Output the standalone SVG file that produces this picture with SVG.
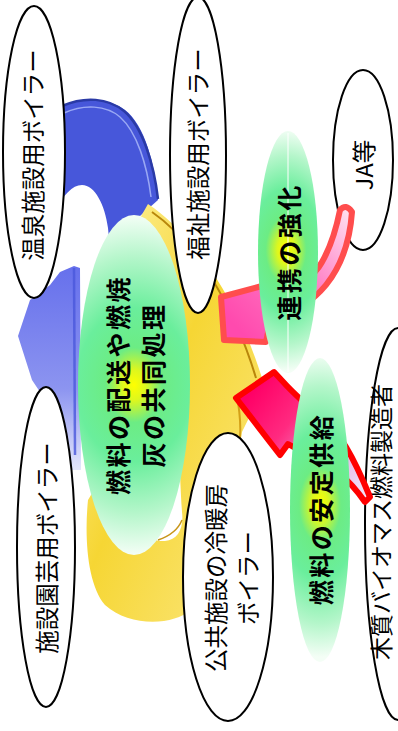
<svg xmlns="http://www.w3.org/2000/svg" width="398" height="731" viewBox="0 0 398 731">
<style>
  .bub { fill: #FFFFFF; stroke: #000000; stroke-width: 2; }
  .lbl { font-family: "Noto Sans CJK JP", "Noto Sans", sans-serif; font-size: 23.5px; fill: #000000; text-anchor: middle; dominant-baseline: central; }
  .key { font-family: "Noto Sans CJK JP", "Noto Sans", sans-serif; font-size: 25px; font-weight: 700; letter-spacing: 2.5px; fill: #000000; text-anchor: middle; dominant-baseline: central; }
</style>
<defs>
  <radialGradient id="glowA" gradientUnits="userSpaceOnUse" cx="134" cy="385" r="170" gradientTransform="translate(134 385) scale(0.75 1) translate(-134 -385)">
    <stop offset="0" stop-color="#FFFF00"/>
    <stop offset="0.09" stop-color="#DDF71E"/>
    <stop offset="0.22" stop-color="#6CEC84"/>
    <stop offset="0.45" stop-color="#6AEE9C"/>
    <stop offset="0.75" stop-color="#B4F6CA"/>
    <stop offset="1" stop-color="#F4FEF6"/>
  </radialGradient>
  <radialGradient id="glowB" gradientUnits="userSpaceOnUse" cx="286" cy="250" r="121" gradientTransform="translate(286 250) scale(0.6 1) translate(-286 -250)">
    <stop offset="0" stop-color="#FFFF00"/>
    <stop offset="0.12" stop-color="#DDF71E"/>
    <stop offset="0.28" stop-color="#6CEC84"/>
    <stop offset="0.5" stop-color="#6AEE9C"/>
    <stop offset="0.78" stop-color="#B4F6CA"/>
    <stop offset="1" stop-color="#F4FEF6"/>
  </radialGradient>
  <radialGradient id="glowC" gradientUnits="userSpaceOnUse" cx="320" cy="505" r="152" gradientTransform="translate(320 505) scale(0.55 1) translate(-320 -505)">
    <stop offset="0" stop-color="#FFFF00"/>
    <stop offset="0.1" stop-color="#DDF71E"/>
    <stop offset="0.25" stop-color="#6CEC84"/>
    <stop offset="0.48" stop-color="#6AEE9C"/>
    <stop offset="0.78" stop-color="#B4F6CA"/>
    <stop offset="1" stop-color="#F4FEF6"/>
  </radialGradient>
  <linearGradient id="gold" x1="0" y1="0" x2="1" y2="1">
    <stop offset="0" stop-color="#FFF4A8"/>
    <stop offset="0.45" stop-color="#F6D634"/>
    <stop offset="0.75" stop-color="#F9E060"/>
    <stop offset="1" stop-color="#FFF3B8"/>
  </linearGradient>
  <linearGradient id="blueTail" x1="0" y1="0" x2="0" y2="1">
    <stop offset="0" stop-color="#6670EC"/>
    <stop offset="0.6" stop-color="#8C94F0"/>
    <stop offset="1" stop-color="#E4E7FB"/>
  </linearGradient>
  <linearGradient id="pinkA" gradientUnits="userSpaceOnUse" x1="230" y1="320" x2="350" y2="205">
    <stop offset="0" stop-color="#FF4AAE"/>
    <stop offset="0.5" stop-color="#FF7CC4"/>
    <stop offset="1" stop-color="#FFE6F2"/>
  </linearGradient>
  <linearGradient id="pinkB" gradientUnits="userSpaceOnUse" x1="245" y1="400" x2="374" y2="500">
    <stop offset="0" stop-color="#FF0066"/>
    <stop offset="0.3" stop-color="#FF2A80"/>
    <stop offset="0.7" stop-color="#E8B8E8"/>
    <stop offset="1" stop-color="#F4F0FC"/>
  </linearGradient>
</defs>

<!-- cycle arrows in the background -->
<g id="cycle-blue">
  <path d="M40,120 C60,100 100,92 125,110 C145,125 155,165 158,200 L140,216 L140,270 L112,270 L108,228 C105,205 95,185 82,185 C72,185 64,195 55,210 Z" fill="#4757DA"/>
  <path d="M62,106 C85,96 108,98 124,111 C143,127 154,165 158,199" fill="none" stroke="#2A3AA6" stroke-width="2.5"/>
  <path d="M64,113 C84,104 106,105 120,117 C137,132 147,165 151,197" fill="none" stroke="#9AA8F4" stroke-width="1.5"/>
  <path d="M60,272 L74,266 L80,268 L81,470 L66,470 L58,440 L42,395 L32,380 L18,336 L30,300 L50,285 Z" fill="url(#blueTail)"/>
  <line x1="74" y1="268" x2="75" y2="455" stroke="#4A58DC" stroke-width="2.5" opacity="0.8"/>
</g>
<g id="cycle-gold">
  <path d="M148,204 C185,228 235,290 262,378 C262,395 250,415 242,432 C235,480 215,570 190,610 C175,625 130,628 105,605 C88,585 84,540 88,500 L100,480 C120,525 145,542 165,541 C178,540 184,528 182,512 C180,480 178,420 176,360 C174,300 160,245 140,218 Z" fill="url(#gold)"/>
  <path d="M152,212 C190,238 232,298 256,378" fill="none" stroke="#B8860B" stroke-width="2"/>
  <path d="M238,402 C240,415 241,425 240,438" fill="none" stroke="#D4A017" stroke-width="2"/>
  <path d="M158,540 C170,536 178,530 182,520" fill="none" stroke="#C8961A" stroke-width="1.5"/>
</g>

<!-- white boiler / partner bubbles -->
<g id="onsen">
  <ellipse class="bub" cx="34" cy="152" rx="31" ry="146"/>
  <text class="lbl" transform="translate(32 155) rotate(-90)">温泉施設用ボイラー</text>
</g>
<g id="fukushi">
  <ellipse class="bub" cx="198" cy="155" rx="28" ry="158"/>
  <text class="lbl" transform="translate(197 154) rotate(-90)">福祉施設用ボイラー</text>
</g>
<g id="ja">
  <ellipse class="bub" cx="363" cy="160" rx="30" ry="90"/>
  <text class="lbl" transform="translate(363 165) rotate(-90)">JA等</text>
</g>
<g id="engei">
  <ellipse class="bub" cx="46" cy="547" rx="29" ry="160"/>
  <text class="lbl" transform="translate(46 548) rotate(-90)">施設園芸用ボイラー</text>
</g>
<g id="koukyou">
  <ellipse class="bub" cx="228" cy="577" rx="45" ry="144"/>
  <text class="lbl" transform="translate(231 578) rotate(-90)"><tspan x="0" y="-16">公共施設の冷暖房</tspan><tspan x="0" y="16">ボイラー</tspan></text>
</g>
<g id="seizou">
  <ellipse class="bub" cx="398" cy="524" rx="33" ry="196"/>
  <text class="lbl" transform="translate(380 522) rotate(-90)" style="font-size:23px">木質バイオマス燃料製造者</text>
</g>

<!-- arrows between partners -->
<g id="connectors">
  <path d="M221,297 L262,286 L268,300 C300,288 315,275 322,262 C330,248 336,230 340,210 Q346,203 352,212 C350,240 342,265 326,285 C312,302 290,315 270,323 L266,342 L224,340 Z" fill="url(#pinkA)" stroke="#FF4D4D" stroke-width="6" stroke-linejoin="round"/>
  <path d="M236,398 L274,372 L287,386 C310,410 333,425 346,447 C355,462 363,480 370,497 L365,502 C358,492 350,482 338,472 C320,460 302,452 288,444 L280,455 Z" fill="url(#pinkB)" stroke="#FF0000" stroke-width="6" stroke-linejoin="round"/>
</g>

<!-- key activities -->
<g id="kyoudou">
  <ellipse cx="134" cy="385" rx="56" ry="170" fill="url(#glowA)"/>
  <text class="key" transform="translate(134.5 385) rotate(-90)"><tspan x="0" y="-17.5">燃料の配送や燃焼</tspan><tspan x="0" y="17.5">灰の共同処理</tspan></text>
</g>
<g id="renkei">
  <ellipse cx="288" cy="252" rx="30" ry="121" fill="url(#glowB)"/>
  <line x1="288" y1="133" x2="288" y2="372" stroke="#FFFFFF" stroke-width="1"/>
  <text class="key" transform="translate(288 252) rotate(-90)">連携の強化</text>
</g>
<g id="antei">
  <ellipse cx="320" cy="510" rx="30" ry="152" fill="url(#glowC)"/>
  <text class="key" transform="translate(320 509) rotate(-90)">燃料の安定供給</text>
</g>
</svg>
